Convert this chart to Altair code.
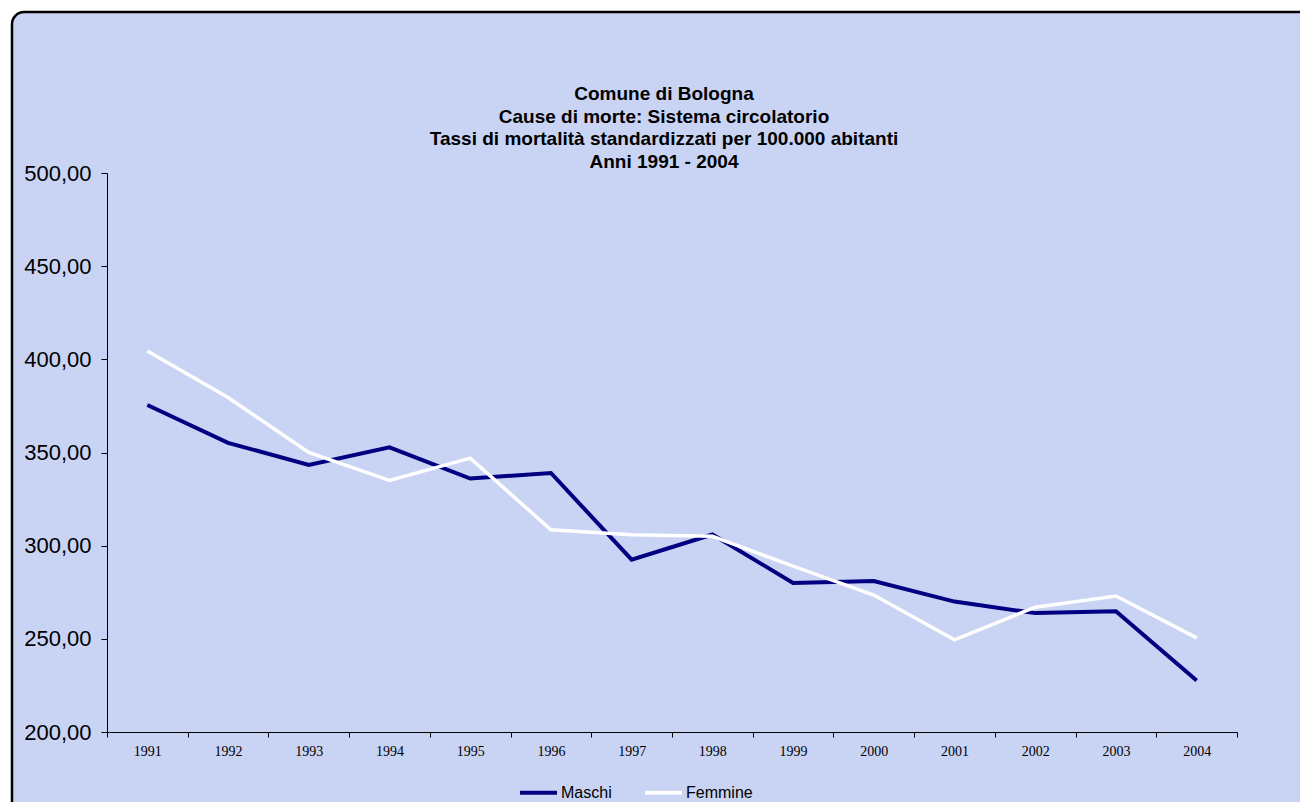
import altair as alt
import pandas as pd

years = ["1991", "1992", "1993", "1994", "1995", "1996", "1997",
         "1998", "1999", "2000", "2001", "2002", "2003", "2004"]
maschi = [375.5, 355.2, 343.3, 352.8, 336.0, 339.0, 292.5,
          306.0, 280.0, 281.0, 270.0, 263.8, 264.8, 227.6]
femmine = [404.5, 379.5, 350.0, 335.0, 347.0, 308.5, 305.8,
           305.0, 289.0, 273.5, 249.5, 267.0, 273.0, 250.5]
series = ["Maschi", "Femmine"]
colors = ["#000080", "#ffffff"]
y_ticks = [200, 250, 300, 350, 400, 450, 500]
title_lines = ["Comune di Bologna",
               "Cause di morte: Sistema circolatorio",
               "Tassi di mortalità standardizzati per 100.000 abitanti",
               "Anni 1991 - 2004"]

rows = []
for s, vals in zip(series, [maschi, femmine]):
    for y, v in zip(years, vals):
        rows.append({"Anno": y, "Tasso": v, "Sesso": s})
df = pd.DataFrame(rows)

BG = "#c9d3f4"

frame = alt.Chart(alt.Data(values=[{"k": 1}])).mark_rect(
    fill=BG, stroke="black", strokeWidth=2.5, cornerRadius=12
).encode(
    x=alt.value(-95), x2=alt.value(1220),
    y=alt.value(-161), y2=alt.value(650)
)

title = alt.Chart(alt.Data(values=[{"t": "\n".join(title_lines)}])).mark_text(
    font="Liberation Sans", fontSize=19, fontWeight="bold", color="black",
    lineBreak="\n", lineHeight=22.7, align="center", baseline="middle"
).encode(
    text="t:N", x=alt.value(557), y=alt.value(-79)
)

x_enc = alt.X(
    "Anno:O", sort=years,
    scale=alt.Scale(type="band", paddingInner=0, paddingOuter=0),
    axis=alt.Axis(title=None, labelAngle=0, tickBand="extent", tickSize=5,
                  tickColor="black", domainColor="black", zindex=1,
                  labelFont="Liberation Serif", labelFontSize=14,
                  labelColor="black", labelPadding=7)
)
y_enc = alt.Y(
    "Tasso:Q",
    scale=alt.Scale(domain=[200, 500], nice=False, zero=False),
    axis=alt.Axis(title=None, values=y_ticks, grid=False, tickSize=6,
                  tickColor="black", domainColor="black", zindex=1,
                  labelFont="Liberation Sans", labelFontSize=22,
                  labelColor="black", labelPadding=10,
                  labelExpr="replace(format(datum.value, '.2f'), '.', ',')")
)
color_enc = alt.Color(
    "Sesso:N",
    scale=alt.Scale(domain=series, range=colors),
    legend=alt.Legend(
        title=None, orient="none", legendX=411, legendY=599, zindex=1,
        direction="horizontal", symbolType="stroke", symbolSize=1369,
        symbolStrokeWidth=4, labelFont="Liberation Sans", labelFontSize=16,
        labelColor="black", labelOffset=2, columnPadding=25, padding=0
    )
)

base = alt.Chart(df).encode(x=x_enc, y=y_enc, color=color_enc)
line_m = base.transform_filter(alt.datum.Sesso == "Maschi").mark_line(strokeWidth=4)
line_f = base.transform_filter(alt.datum.Sesso == "Femmine").mark_line(strokeWidth=3.5)

chart = alt.layer(frame, title, line_m, line_f).properties(
    width=1130, height=559,
    autosize=alt.AutoSizeParams(type="none"),
    padding={"left": 99, "top": 165, "right": 63, "bottom": 70},
    background="white"
).configure_view(stroke="black", strokeWidth=1.5)

chart.save("out.html", embed_options={"renderer": "svg", "actions": False})
